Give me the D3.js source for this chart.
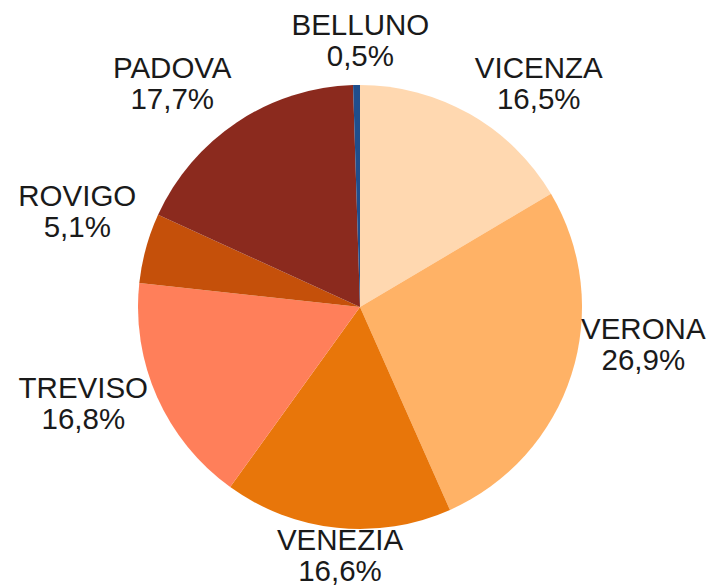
<!DOCTYPE html>
<html>
<head>
<meta charset="utf-8">
<script src="https://cdn.jsdelivr.net/npm/d3@7"></script>
<style>
  body { margin: 0; background: #fff; }
  text { font-family: "Liberation Sans", Arial, sans-serif; }
</style>
</head>
<body>
<div id="chart"></div>
<script>
"use strict";

// data, clockwise from 12 o'clock
var provinces = ["VICENZA", "VERONA", "VENEZIA", "TREVISO", "ROVIGO", "PADOVA", "BELLUNO"];
var shares = [16.5, 26.9, 16.6, 16.8, 5.1, 17.7, 0.5];
var shareLabels = ["16,5%", "26,9%", "16,6%", "16,8%", "5,1%", "17,7%", "0,5%"];
var sliceColors = ["#ffd8b0", "#ffb266", "#e8760a", "#ff7f5a", "#c5500a", "#8b2a1e", "#1f4e8c"];

var width = 711, height = 587;
var cx = 360, cy = 307, radius = 222;
var fontSize = 29.5, lineGap = 31;

var svg = d3.select("#chart").append("svg")
    .attr("width", width)
    .attr("height", height);

var rows = provinces.map(function (p, i) {
    return { name: p, value: shares[i], label: shareLabels[i], color: sliceColors[i] };
});

var pie = d3.pie()
    .sort(null)
    .value(function (d) { return d.value; });

var arc = d3.arc().innerRadius(0).outerRadius(radius);

var chartLayer = svg.append("g")
    .attr("transform", "translate(" + [cx, cy] + ")");

var arcs = pie(rows);

chartLayer.selectAll("path")
    .data(arcs)
    .enter().append("path")
    .attr("d", arc)
    .attr("fill", function (d) { return d.data.color; });

// labels outside the pie, anchored at the slice's mid angle
var labelRadius = radius + 10;
var boxH = lineGap + 21;

var labels = chartLayer.selectAll("g.label")
    .data(arcs)
    .enter().append("g")
    .attr("class", "label")
    .attr("transform", function (d) {
        var a = (d.startAngle + d.endAngle) / 2;
        var s = Math.sin(a), c = Math.cos(a);
        var px = labelRadius * s, py = -labelRadius * c;
        var dy;
        if (Math.abs(s) > 0.94) {
            dy = -boxH / 2 - 8;
        } else {
            dy = -(boxH / 2) * c - (s < 0 ? 9 : 0);
        }
        return "translate(" + [px, py + dy] + ")";
    })
    .attr("text-anchor", function (d) {
        var s = Math.sin((d.startAngle + d.endAngle) / 2);
        if (s > 0.3) return "start";
        if (s < -0.3) return "end";
        return "middle";
    });

labels.each(function (d) {
    var g = d3.select(this);
    var anchor = g.attr("text-anchor");
    var t = g.append("text")
        .attr("font-size", fontSize)
        .attr("fill", "#1a1a1a");
    t.append("tspan").attr("x", 0).attr("y", -boxH / 2 + 21).text(d.data.name);
    t.append("tspan").attr("x", 0).attr("y", -boxH / 2 + 21 + lineGap).text(d.data.label);
    // centre the shorter line under the longer one
    var b1 = t.select("tspan:nth-child(1)").node().getComputedTextLength();
    var b2 = t.select("tspan:nth-child(2)").node().getComputedTextLength();
    var w = Math.max(b1, b2);
    t.attr("text-anchor", "middle");
    if (anchor === "start") {
        t.selectAll("tspan").attr("x", w / 2);
    } else if (anchor === "end") {
        t.selectAll("tspan").attr("x", -w / 2);
    } else {
        t.selectAll("tspan").attr("x", 4);
    }
});
</script>
</body>
</html>
